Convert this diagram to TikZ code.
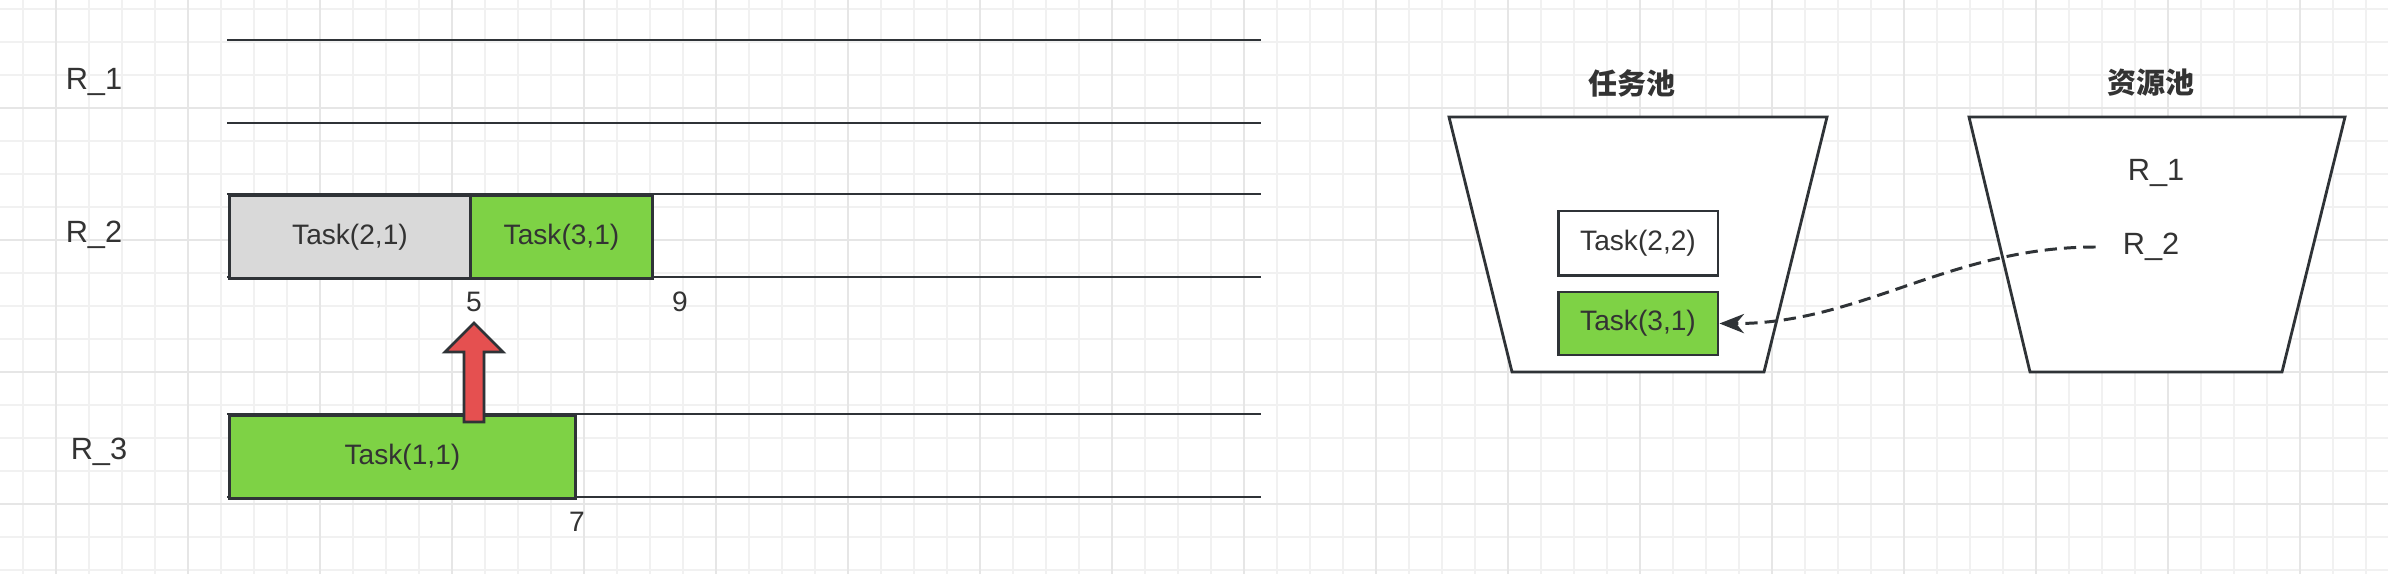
\documentclass[tikz,border=0pt]{standalone}
\usepackage{fontspec}
\setmainfont{Liberation Sans}
\newfontfamily\cjk{Noto Sans CJK SC}
\usepackage{tikz}
\usetikzlibrary{arrows.meta}

\definecolor{linec}{HTML}{2F3337}
\definecolor{textc}{HTML}{333333}
\definecolor{taskgreen}{HTML}{7ED245}
\definecolor{taskgray}{HTML}{D9D9D9}
\definecolor{uparrow}{HTML}{E55050}
\definecolor{gridminor}{HTML}{F1F1F1}
\definecolor{gridmajor}{HTML}{E6E6E6}

\begin{document}
\begin{tikzpicture}[
  x=0.02cm, y=-0.02cm,
  lane/.style={draw=linec, line width=1.7pt},
  task/.style={draw=linec, line width=1.7pt, text=textc, inner sep=0pt,
               font=\fontsize{16}{19}\selectfont, minimum height=1.66cm},
  rlabel/.style={text=textc, font=\fontsize{17.5}{20}\selectfont},
  tick/.style={text=textc, font=\fontsize{16}{19}\selectfont},
  pool/.style={draw=linec, line width=1.6pt, fill=white},
  pooltitle/.style={text=textc, font=\cjk\bfseries\fontsize{16.5}{19}\selectfont},
  link/.style={draw=linec, line width=1.7pt, dash pattern=on 7pt off 4pt,
               -{Stealth[length=14pt,width=11pt]}}
]
\useasboundingbox (0,0) rectangle (2388,574);
\fill[white] (0,0) rectangle (2388,574);

% background grid
\foreach \gx in {0,...,71}
  \draw[gridminor, line width=0.6pt] ({23+33*\gx},0) -- ({23+33*\gx},574);
\foreach \gy in {0,...,17}
  \draw[gridminor, line width=0.6pt] (0,{9+33*\gy}) -- (2388,{9+33*\gy});
\foreach \gx in {0,...,17}
  \draw[gridmajor, line width=0.8pt] ({56+132*\gx},0) -- ({56+132*\gx},574);
\foreach \gy in {0,...,3}
  \draw[gridmajor, line width=0.8pt] (0,{108+132*\gy}) -- (2388,{108+132*\gy});

% resource lanes
\foreach \ly in {40,123,194,277,414,497}
  \draw[lane] (227,\ly) -- (1261,\ly);

\node[rlabel] (r1) at (94,82)  {R\_1};
\node[rlabel] (r2) at (94,235) {R\_2};
\node[rlabel] (r3) at (99,452) {R\_3};

\node[task, fill=taskgray,  anchor=north west, minimum width=4.82cm] (t21) at (228,194) {Task(2,1)};
\node[task, fill=taskgreen, anchor=north west, minimum width=3.64cm] (t31) at (469,194) {Task(3,1)};
\node[task, fill=taskgreen, anchor=north west, minimum width=6.92cm] (t11) at (228,414) {Task(1,1)};

\node[tick] (n5) at (474,302) {5};
\node[tick] (n9) at (680,302) {9};
\node[tick] (n7) at (577,522) {7};

% move up
\draw[draw=linec, line width=1.6pt, fill=uparrow, line join=miter]
  (464,422) -- (464,352) -- (445,352) -- (474,323) -- (503,352)
  -- (484,352) -- (484,422) -- cycle;

% pools
\draw[pool] (1449,117) -- (1827,117) -- (1764,372) -- (1512,372) -- cycle;
\draw[pool] (1969,117) -- (2345,117) -- (2282,372) -- (2030,372) -- cycle;

\node[pooltitle] (tp) at (1632,83) {任务池};
\node[pooltitle] (rp) at (2151,83) {资源池};

\node[task, fill=white, minimum width=3.2cm, minimum height=1.3cm] (p22) at (1638,243.5) {Task(2,2)};
\node[task, fill=taskgreen, minimum width=3.2cm, minimum height=1.26cm] (p31) at (1638,323.5) {Task(3,1)};

\node[rlabel] (pr1) at (2156,173) {R\_1};
\node[rlabel] (pr2) at (2151,247) {R\_2};

\draw[link, shorten <=12pt] (pr2.west) .. controls (1950,247) and (1860,324) .. (p31.east);
\end{tikzpicture}
\end{document}
